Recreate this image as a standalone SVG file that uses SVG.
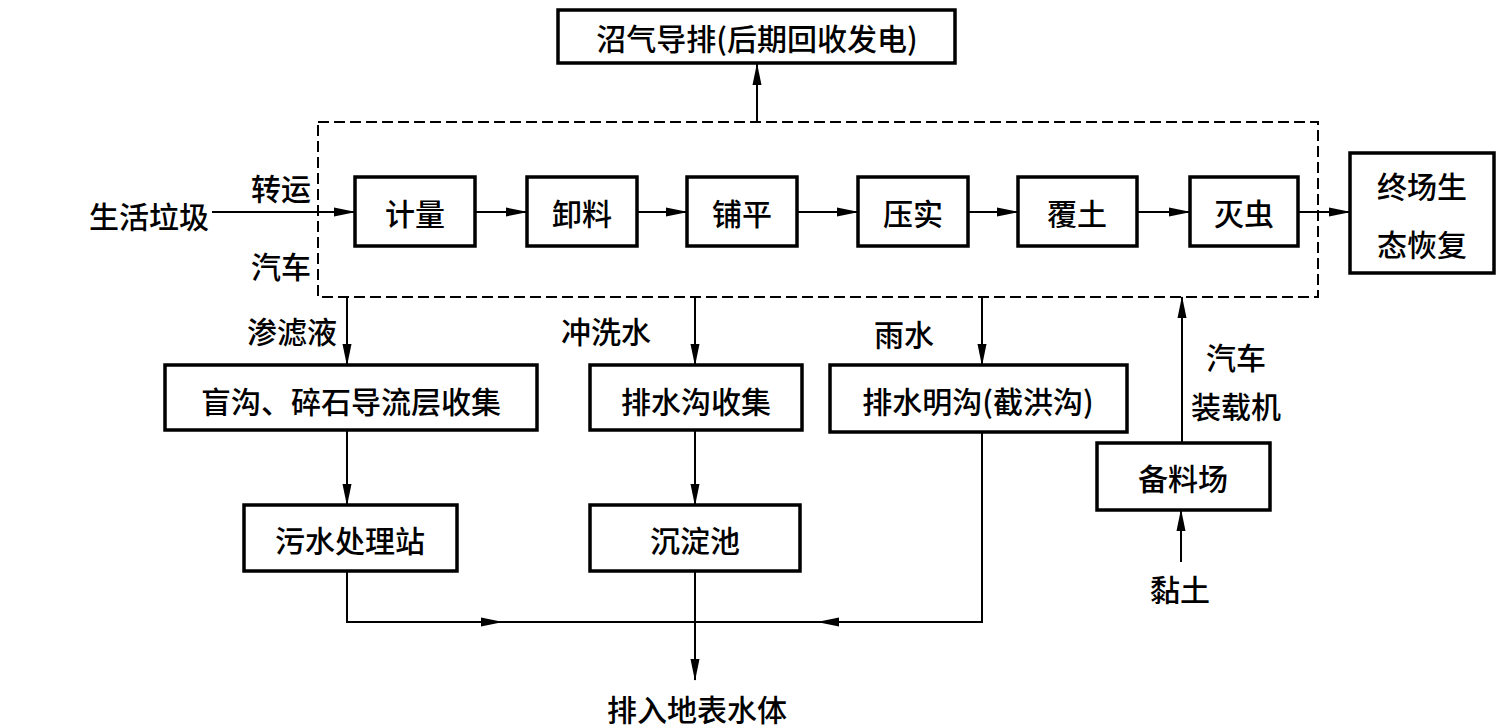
<svg xmlns="http://www.w3.org/2000/svg" width="1496" height="728" viewBox="0 0 1496 728">
<style>
  .box { fill: #fff; stroke: #000; stroke-width: 3.5; }
  .t { font-family: "Noto Sans CJK SC", "Liberation Sans", sans-serif; font-size: 30px; font-weight: 500; fill: #000; text-anchor: middle; dominant-baseline: central; }
  .ln { fill: none; stroke: #000; stroke-width: 2; }
  .ar { fill: none; stroke: #000; stroke-width: 2; marker-end: url(#ah); }
  .dash { fill: none; stroke: #000; stroke-width: 2; stroke-dasharray: 11 5; }
</style>
<defs>
  <marker id="ah" markerUnits="userSpaceOnUse" markerWidth="22" markerHeight="10" refX="21" refY="5" orient="auto">
    <path d="M0,0.5 L22,5 L0,9.5 z" fill="#000"/>
  </marker>
</defs>
<rect width="1496" height="728" fill="#fff"/>

<g id="connectors">
  <rect class="dash" x="318" y="122" width="1000" height="175"/>
  <path class="ar" d="M757,122 V64"/>
  <path class="ar" d="M212,212 H355"/>
  <path class="ar" d="M475,212 H527"/>
  <path class="ar" d="M637,212 H687"/>
  <path class="ar" d="M797,212 H858"/>
  <path class="ar" d="M968,212 H1018"/>
  <path class="ar" d="M1137,212 H1190"/>
  <path class="ar" d="M1298,212 H1350"/>
  <path class="ar" d="M347,297 V365"/>
  <path class="ar" d="M695,297 V365"/>
  <path class="ar" d="M982,297 V365"/>
  <path class="ar" d="M1182,443 V297"/>
  <path class="ar" d="M1181,562 V510"/>
  <path class="ar" d="M347,430 V505"/>
  <path class="ar" d="M695,430 V505"/>
  <path class="ar" d="M347,571 V622 H502"/>
  <path class="ln" d="M495,622 H695"/>
  <path class="ar" d="M982,432 V622 H818"/>
  <path class="ln" d="M825,622 H695"/>
  <path class="ar" d="M695,571 V680"/>
</g>

<g id="biogas"><rect class="box" x="558" y="10" width="397" height="53"/><text class="t" x="757" y="37">沼气导排(后期回收发电)</text></g>
<g id="msw"><text class="t" x="149" y="215">生活垃圾</text></g>
<g id="lbl-truck1"><text class="t" x="281" y="187">转运</text><text class="t" x="281" y="265">汽车</text></g>
<g id="n-weigh"><rect class="box" x="355" y="177" width="120" height="69"/><text class="t" x="415" y="212">计量</text></g>
<g id="n-unload"><rect class="box" x="527" y="177" width="110" height="69"/><text class="t" x="582" y="212">卸料</text></g>
<g id="n-spread"><rect class="box" x="687" y="177" width="110" height="69"/><text class="t" x="742" y="212">铺平</text></g>
<g id="n-compact"><rect class="box" x="858" y="177" width="110" height="69"/><text class="t" x="913" y="212">压实</text></g>
<g id="n-cover"><rect class="box" x="1018" y="177" width="119" height="69"/><text class="t" x="1077" y="212">覆土</text></g>
<g id="n-insect"><rect class="box" x="1190" y="177" width="108" height="69"/><text class="t" x="1244" y="212">灭虫</text></g>
<g id="n-restore"><rect class="box" x="1350" y="153" width="144" height="120"/><text class="t" x="1422" y="185">终场生</text><text class="t" x="1422" y="243">态恢复</text></g>

<g id="lbl-leach"><text class="t" x="292" y="330">渗滤液</text></g>
<g id="lbl-wash"><text class="t" x="606" y="330">冲洗水</text></g>
<g id="lbl-rain"><text class="t" x="904" y="333">雨水</text></g>
<g id="lbl-truck2"><text class="t" x="1236" y="356">汽车</text><text class="t" x="1236" y="405">装载机</text></g>

<g id="n-blind"><rect class="box" x="165" y="365" width="372" height="65"/><text class="t" x="351" y="400">盲沟、碎石导流层收集</text></g>
<g id="n-ditch"><rect class="box" x="590" y="365" width="212" height="65"/><text class="t" x="696" y="400">排水沟收集</text></g>
<g id="n-open"><rect class="box" x="830" y="365" width="297" height="67"/><text class="t" x="978" y="400">排水明沟(截洪沟)</text></g>
<g id="n-stock"><rect class="box" x="1097" y="443" width="173" height="67"/><text class="t" x="1183" y="477">备料场</text></g>
<g id="n-sewage"><rect class="box" x="244" y="505" width="213" height="66"/><text class="t" x="350" y="539">污水处理站</text></g>
<g id="n-settle"><rect class="box" x="590" y="505" width="210" height="66"/><text class="t" x="695" y="539">沉淀池</text></g>
<g id="clay"><text class="t" x="1180" y="588">黏土</text></g>
<g id="outlet"><text class="t" x="697" y="708">排入地表水体</text></g>
</svg>
